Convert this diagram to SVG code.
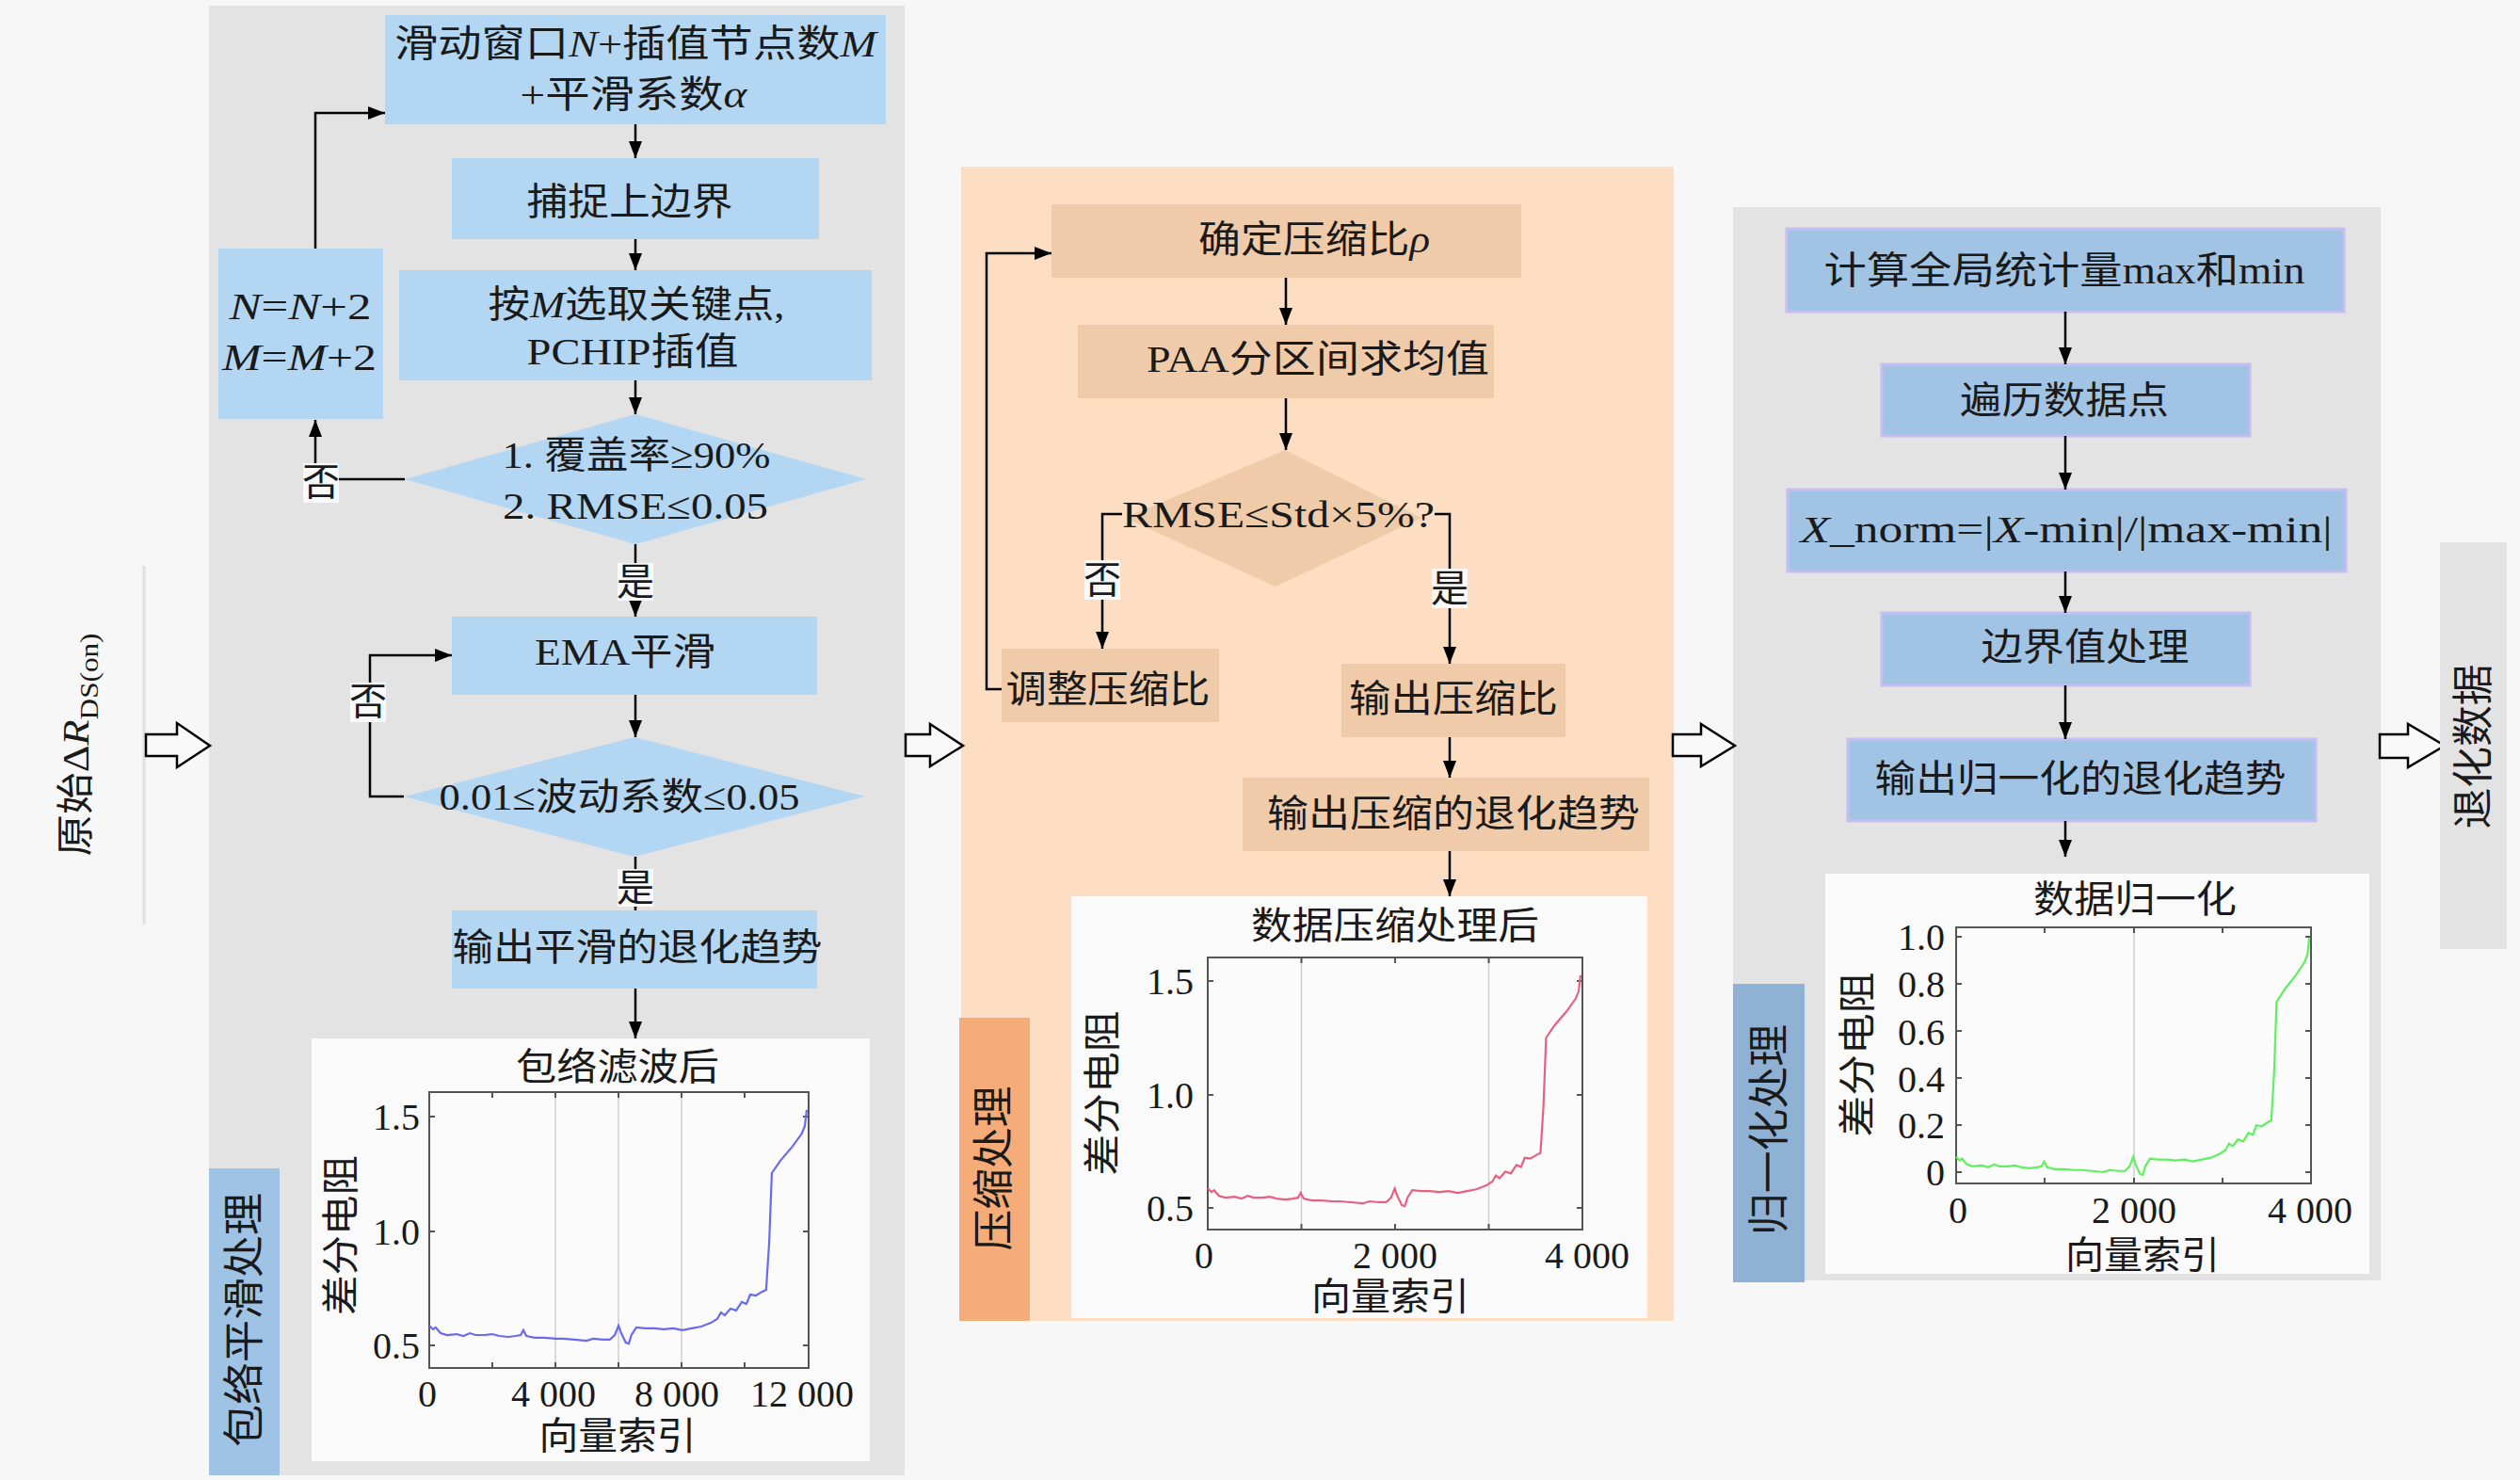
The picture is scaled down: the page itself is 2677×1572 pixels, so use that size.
<svg xmlns="http://www.w3.org/2000/svg" xmlns:xlink="http://www.w3.org/1999/xlink" width="2677" height="1572" viewBox="0 0 2677 1572">
<style>
.t{font-family:"Liberation Serif","Noto Sans CJK SC",serif;font-size:40px;fill:#1a1a1a;text-anchor:middle;dominant-baseline:central}
.side{font-family:"Liberation Serif","Noto Sans CJK SC",serif;font-size:44px;fill:#1a1a1a;text-anchor:middle;dominant-baseline:central}
.num{font-family:"Liberation Serif",serif;font-size:40px;fill:#1a1a1a;dominant-baseline:central}
.r{text-anchor:end}
.m{text-anchor:middle}
.i{font-style:italic}
.conn{fill:none;stroke:#000;stroke-width:2.5}
.b1{fill:#b3d6f2}
.b2{fill:#f0cbaa}
.b3{fill:#a2c4e4;stroke:#c6bdf0;stroke-width:3}
.lblbg{fill:#f9f9f9}
.plotbg{fill:#fafafa}
.axes{fill:#fbfbfb;stroke:#555;stroke-width:2}
.grid{stroke:#cfcfcf;stroke-width:1.5}
.tk{stroke:#555;stroke-width:2}
.blk{fill:#f9f9f9;stroke:#000;stroke-width:2.5;stroke-linejoin:miter}
</style>
<defs>
<marker id="ah" markerWidth="20" markerHeight="16" refX="18" refY="7" orient="auto" markerUnits="userSpaceOnUse"><path d="M0,0 L18,7 L0,14 Z" fill="#000"/></marker>
<polyline id="curve" fill="none" vector-effect="non-scaling-stroke" points="0,586 10,570 17,578 30,553 47,545 72,549 90,541 107,553 122,545 146,545 166,549 184,541 208,537 228,541 241,545 248,566 256,541 278,533 303,533 333,529 352,529 382,525 414,520 432,529 457,525 476,525 489,545 499,586 506,553 518,512 526,508 533,545 546,578 568,574 593,574 618,570 643,574 667,566 692,574 717,582 742,598 759,615 769,643 779,631 794,660 809,652 824,689 836,680 846,721 861,717 878,734 888,742 896,947 903,1250 925,1303 957,1365 982,1422 990,1455 995,1525"/>
</defs>
<rect x="0" y="0" width="2677" height="1572" fill="#f7f7f7"/>

<g id="panels">
<rect x="222" y="6" width="739" height="1561" fill="#e3e3e3"/>
<rect x="1021" y="177" width="757" height="1226" fill="#fddec2"/>
<rect x="1841" y="220" width="688" height="1140" fill="#e3e3e3"/>
<line x1="153" y1="601" x2="153" y2="982" stroke="#e0e0e0" stroke-width="3"/>
</g>

<g id="input-label">
<text class="t" font-size="44" transform="rotate(-90 80 791)" x="80" y="791" textLength="237" lengthAdjust="spacingAndGlyphs">原始Δ<tspan class="i">R</tspan><tspan font-size="28" dy="14">DS(on)</tspan></text>
</g>

<g id="block-arrows">
<path class="blk" d="M155,780 L188,780 L188,768 L223,792 L188,815 L188,803 L155,803 Z"/>
<path class="blk" d="M962,780 L988,780 L988,769 L1023,792 L988,814 L988,803 L962,803 Z"/>
<path class="blk" d="M1777,780 L1807,780 L1807,769 L1843,792 L1807,814 L1807,803 L1777,803 Z"/>
<path class="blk" d="M2528,780 L2558,780 L2558,769 L2597,792 L2558,815 L2558,805 L2528,805 Z"/>
</g>

<!-- Panel 1 nodes -->
<g id="n-window">
<rect class="b1" x="409" y="16" width="532" height="116"/>
<text class="t" x="675" y="46" textLength="512" lengthAdjust="spacingAndGlyphs">滑动窗口<tspan class="i">N</tspan>+插值节点数<tspan class="i">M</tspan></text>
<text class="t" x="673" y="100" textLength="241" lengthAdjust="spacingAndGlyphs">+平滑系数<tspan class="i">α</tspan></text>
</g>
<g id="n-upper">
<rect class="b1" x="480" y="168" width="390" height="86"/>
<text class="t" x="669" y="214" textLength="219" lengthAdjust="spacingAndGlyphs">捕捉上边界</text>
</g>
<g id="n-pchip">
<rect class="b1" x="424" y="287" width="502" height="117"/>
<text class="t" x="676" y="323" textLength="315" lengthAdjust="spacingAndGlyphs">按<tspan class="i">M</tspan>选取关键点,</text>
<text class="t" x="672" y="373" textLength="225" lengthAdjust="spacingAndGlyphs">PCHIP插值</text>
</g>
<g id="n-update">
<rect class="b1" x="232" y="264" width="175" height="181"/>
<text class="t" x="319" y="325" textLength="151" lengthAdjust="spacingAndGlyphs"><tspan class="i">N</tspan>=<tspan class="i">N</tspan>+2</text>
<text class="t" x="318" y="379" textLength="164" lengthAdjust="spacingAndGlyphs"><tspan class="i">M</tspan>=<tspan class="i">M</tspan>+2</text>
</g>
<g id="n-check1">
<polygon class="b1" points="675,440 920,509 675,578 430,509"/>
<text class="t" x="676" y="483" textLength="285" lengthAdjust="spacingAndGlyphs">1. 覆盖率≥90%</text>
<text class="t" x="675" y="537" textLength="282" lengthAdjust="spacingAndGlyphs">2. RMSE≤0.05</text>
</g>
<g id="n-ema">
<rect class="b1" x="480" y="655" width="388" height="83"/>
<text class="t" x="664" y="692" textLength="192" lengthAdjust="spacingAndGlyphs">EMA平滑</text>
</g>
<g id="n-check2">
<polygon class="b1" points="674,783 919,846 674,910 429,846"/>
<text class="t" x="658" y="846" textLength="383" lengthAdjust="spacingAndGlyphs">0.01≤波动系数≤0.05</text>
</g>
<g id="n-out1">
<rect class="b1" x="480" y="967" width="388" height="83"/>
<text class="t" x="677" y="1006" textLength="393" lengthAdjust="spacingAndGlyphs">输出平滑的退化趋势</text>
</g>
<g id="plot1">
<rect class="plotbg" x="331" y="1103" width="593" height="449"/>
<text class="t" x="656" y="1133" textLength="216" lengthAdjust="spacingAndGlyphs">包络滤波后</text>
<rect class="axes" x="456" y="1160" width="403" height="293"/>
<line class="grid" x1="590" y1="1161" x2="590" y2="1452"/>
<line class="grid" x1="657" y1="1161" x2="657" y2="1452"/>
<line class="grid" x1="724" y1="1161" x2="724" y2="1452"/>
<path class="tk" d="M523,1160v6M590,1160v6M657,1160v6M724,1160v6M791,1160v6M523,1453v-6M590,1453v-6M657,1453v-6M724,1453v-6M791,1453v-6M456,1186h6M456,1308h6M456,1429h6M859,1186h-6M859,1308h-6M859,1429h-6"/>
<use xlink:href="#curve" href="#curve" stroke="#6a6af0" stroke-width="2.2" transform="translate(456,1551) scale(0.403,-0.244)"/>
<text class="num r" x="446" y="1186">1.5</text>
<text class="num r" x="446" y="1308">1.0</text>
<text class="num r" x="446" y="1429">0.5</text>
<text class="num m" x="454" y="1480">0</text>
<text class="num m" x="588" y="1480">4 000</text>
<text class="num m" x="719" y="1480">8 000</text>
<text class="num m" x="852" y="1480">12 000</text>
<text class="t" x="656" y="1525" textLength="167" lengthAdjust="spacingAndGlyphs">向量索引</text>
<text class="t" transform="rotate(-90 362 1312)" x="362" y="1312" textLength="170" lengthAdjust="spacingAndGlyphs">差分电阻</text>
</g>
<g id="tab1">
<rect x="222" y="1241" width="75" height="326" fill="#9ec3e4"/>
<text class="side" transform="rotate(-90 260 1402)" x="260" y="1402" textLength="270" lengthAdjust="spacingAndGlyphs">包络平滑处理</text>
</g>

<!-- Panel 2 nodes -->
<g id="n-ratio">
<rect class="b2" x="1117" y="217" width="499" height="78"/>
<text class="t" x="1396" y="254" textLength="246" lengthAdjust="spacingAndGlyphs">确定压缩比<tspan class="i">ρ</tspan></text>
</g>
<g id="n-paa">
<rect class="b2" x="1145" y="345" width="442" height="78"/>
<text class="t" x="1400" y="381" textLength="364" lengthAdjust="spacingAndGlyphs">PAA分区间求均值</text>
</g>
<g id="n-check3">
<polygon class="b2" points="1365,478 1510,550 1355,623 1195,550"/>
<text class="t" x="1358" y="546" textLength="332" lengthAdjust="spacingAndGlyphs">RMSE≤Std×5%?</text>
</g>
<g id="n-adjust">
<rect class="b2" x="1064" y="689" width="231" height="78"/>
<text class="t" x="1177" y="732" textLength="217" lengthAdjust="spacingAndGlyphs">调整压缩比</text>
</g>
<g id="n-outratio">
<rect class="b2" x="1425" y="705" width="238" height="78"/>
<text class="t" x="1544" y="742" textLength="222" lengthAdjust="spacingAndGlyphs">输出压缩比</text>
</g>
<g id="n-out2">
<rect class="b2" x="1320" y="826" width="432" height="78"/>
<text class="t" x="1544" y="864" textLength="396" lengthAdjust="spacingAndGlyphs">输出压缩的退化趋势</text>
</g>
<g id="plot2">
<rect class="plotbg" x="1138" y="952" width="612" height="448"/>
<text class="t" x="1482" y="983" textLength="306" lengthAdjust="spacingAndGlyphs">数据压缩处理后</text>
<rect class="axes" x="1283" y="1017" width="398" height="289"/>
<line class="grid" x1="1382.5" y1="1018" x2="1382.5" y2="1305"/>
<line class="grid" x1="1581.5" y1="1018" x2="1581.5" y2="1305"/>
<path class="tk" d="M1382.5,1017v6M1482,1017v6M1581.5,1017v6M1382.5,1306v-6M1482,1306v-6M1581.5,1306v-6M1283,1042h6M1283,1163h6M1283,1283h6M1681,1042h-6M1681,1163h-6M1681,1283h-6"/>
<use xlink:href="#curve" href="#curve" stroke="#e8607f" stroke-width="2.2" transform="translate(1283,1403.5) scale(0.398,-0.241)"/>
<text class="num r" x="1268" y="1042">1.5</text>
<text class="num r" x="1268" y="1163">1.0</text>
<text class="num r" x="1268" y="1283">0.5</text>
<text class="num m" x="1279" y="1333">0</text>
<text class="num m" x="1482" y="1333">2 000</text>
<text class="num m" x="1686" y="1333">4 000</text>
<text class="t" x="1477" y="1377" textLength="168" lengthAdjust="spacingAndGlyphs">向量索引</text>
<text class="t" transform="rotate(-90 1171 1161)" x="1171" y="1161" textLength="175" lengthAdjust="spacingAndGlyphs">差分电阻</text>
</g>
<g id="tab2">
<rect x="1019" y="1081" width="75" height="322" fill="#f6ac78"/>
<text class="side" transform="rotate(-90 1056 1241)" x="1056" y="1241" textLength="175" lengthAdjust="spacingAndGlyphs">压缩处理</text>
</g>

<!-- Panel 3 nodes -->
<g id="n-stats">
<rect class="b3" x="1898" y="243" width="592" height="88"/>
<text class="t" x="2193" y="287" textLength="511" lengthAdjust="spacingAndGlyphs">计算全局统计量max和min</text>
</g>
<g id="n-traverse">
<rect class="b3" x="1999" y="387" width="391" height="76"/>
<text class="t" x="2193" y="425" textLength="222" lengthAdjust="spacingAndGlyphs">遍历数据点</text>
</g>
<g id="n-norm">
<rect class="b3" x="1899" y="520" width="593" height="87"/>
<text class="t" x="2195" y="562" textLength="565" lengthAdjust="spacingAndGlyphs"><tspan class="i">X</tspan>_norm=|<tspan class="i">X</tspan>-min|/|max-min|</text>
</g>
<g id="n-boundary">
<rect class="b3" x="1999" y="651" width="391" height="77"/>
<text class="t" x="2215" y="687" textLength="221" lengthAdjust="spacingAndGlyphs">边界值处理</text>
</g>
<g id="n-out3">
<rect class="b3" x="1963" y="785" width="497" height="87"/>
<text class="t" x="2210" y="827" textLength="437" lengthAdjust="spacingAndGlyphs">输出归一化的退化趋势</text>
</g>
<g id="plot3">
<rect class="plotbg" x="1939" y="928" width="578" height="425"/>
<text class="t" x="2268" y="955" textLength="216" lengthAdjust="spacingAndGlyphs">数据归一化</text>
<rect class="axes" x="2078" y="985" width="377" height="272"/>
<line class="grid" x1="2267" y1="986" x2="2267" y2="1256"/>
<path class="tk" d="M2172,985v6M2267,985v6M2361,985v6M2172,1257v-6M2267,1257v-6M2361,1257v-6M2078,995h6M2078,1045h6M2078,1095h6M2078,1145h6M2078,1195h6M2078,1245h6M2455,995h-6M2455,1045h-6M2455,1095h-6M2455,1145h-6M2455,1195h-6M2455,1245h-6"/>
<use xlink:href="#curve" href="#curve" stroke="#5ef05e" stroke-width="2.2" transform="translate(2078,1373.7) scale(0.377,-0.2475)"/>
<text class="num r" x="2066" y="995">1.0</text>
<text class="num r" x="2066" y="1045">0.8</text>
<text class="num r" x="2066" y="1096">0.6</text>
<text class="num r" x="2066" y="1146">0.4</text>
<text class="num r" x="2066" y="1195">0.2</text>
<text class="num r" x="2066" y="1245">0</text>
<text class="num m" x="2080" y="1285">0</text>
<text class="num m" x="2267" y="1285">2 000</text>
<text class="num m" x="2454" y="1285">4 000</text>
<text class="t" x="2276" y="1333" textLength="164" lengthAdjust="spacingAndGlyphs">向量索引</text>
<text class="t" transform="rotate(-90 1973 1120)" x="1973" y="1120" textLength="175" lengthAdjust="spacingAndGlyphs">差分电阻</text>
</g>
<g id="tab3">
<rect x="1841" y="1045" width="76" height="317" fill="#8fb2d4"/>
<text class="side" transform="rotate(-90 1880 1200)" x="1880" y="1200" textLength="224" lengthAdjust="spacingAndGlyphs">归一化处理</text>
</g>

<g id="n-result">
<rect x="2592" y="576" width="71" height="432" fill="#e3e3e3"/>
<text class="side" transform="rotate(-90 2628 793)" x="2628" y="793" textLength="175" lengthAdjust="spacingAndGlyphs">退化数据</text>
</g>

<g id="connectors">
<path class="conn" marker-end="url(#ah)" d="M675,132 V168"/>
<path class="conn" marker-end="url(#ah)" d="M675,254 V287"/>
<path class="conn" marker-end="url(#ah)" d="M675,404 V440"/>
<path class="conn" marker-end="url(#ah)" d="M430,509 H335 V446"/>
<path class="conn" marker-end="url(#ah)" d="M335,264 V120 H409"/>
<path class="conn" marker-end="url(#ah)" d="M675,578 V655"/>
<path class="conn" marker-end="url(#ah)" d="M675,738 V783"/>
<path class="conn" marker-end="url(#ah)" d="M429,846 H393 V696 H480"/>
<path class="conn" marker-end="url(#ah)" d="M675,910 V967"/>
<path class="conn" marker-end="url(#ah)" d="M675,1050 V1103"/>

<path class="conn" marker-end="url(#ah)" d="M1366,295 V345"/>
<path class="conn" marker-end="url(#ah)" d="M1366,423 V478"/>
<path class="conn" marker-end="url(#ah)" d="M1192,546 H1171 V689"/>
<path class="conn" marker-end="url(#ah)" d="M1524,546 H1540 V705"/>
<path class="conn" marker-end="url(#ah)" d="M1064,732 H1048 V269 H1117"/>
<path class="conn" marker-end="url(#ah)" d="M1540,783 V826"/>
<path class="conn" marker-end="url(#ah)" d="M1540,904 V952"/>

<path class="conn" marker-end="url(#ah)" d="M2194,331 V387"/>
<path class="conn" marker-end="url(#ah)" d="M2194,463 V520"/>
<path class="conn" marker-end="url(#ah)" d="M2194,607 V651"/>
<path class="conn" marker-end="url(#ah)" d="M2194,728 V785"/>
<path class="conn" marker-end="url(#ah)" d="M2194,872 V910"/>

<rect class="lblbg" x="322" y="492" width="38" height="42"/>
<text class="t" x="341" y="512">否</text>
<rect class="lblbg" x="656" y="598" width="38" height="40"/>
<text class="t" x="675" y="618">是</text>
<rect class="lblbg" x="372" y="725" width="38" height="42"/>
<text class="t" x="391" y="745">否</text>
<rect class="lblbg" x="656" y="923" width="38" height="40"/>
<text class="t" x="675" y="943">是</text>
<rect class="lblbg" x="1152" y="595" width="38" height="42"/>
<text class="t" x="1171" y="616">否</text>
<rect class="lblbg" x="1521" y="604" width="38" height="42"/>
<text class="t" x="1540" y="625">是</text>
</g>
</svg>
